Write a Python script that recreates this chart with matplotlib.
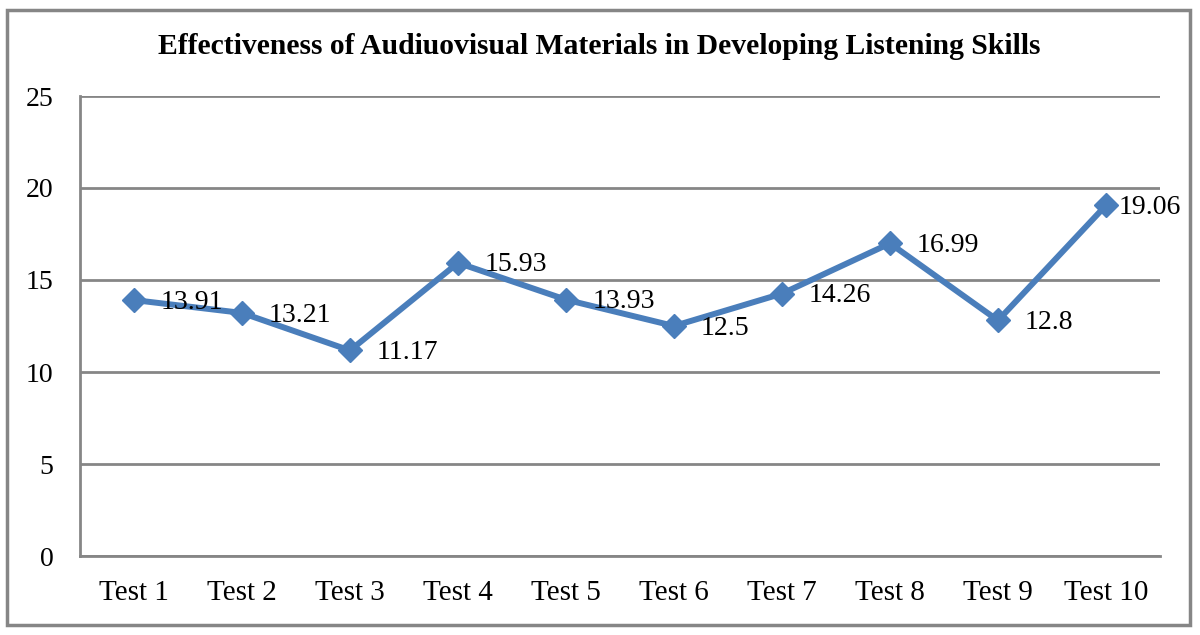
import matplotlib
matplotlib.use("Agg")
from matplotlib import pyplot as plt
from matplotlib.patches import Rectangle

TESTS = ["Test 1", "Test 2", "Test 3", "Test 4", "Test 5",
         "Test 6", "Test 7", "Test 8", "Test 9", "Test 10"]
SCORES = [13.91, 13.21, 11.17, 15.93, 13.93, 12.5, 14.26, 16.99, 12.8, 19.06]
Y_TICKS = [0, 5, 10, 15, 20, 25]

plt.rcParams["font.family"] = ["Liberation Serif", "DejaVu Serif"]

LINE_COLOR = "#4A7EBB"
GRID_COLOR = "#868686"

fig = plt.figure(figsize=(12, 6.35), dpi=100)
ax = fig.add_axes([80 / 1200, 79 / 635, 1080 / 1200, 460 / 635])

x = list(range(len(TESTS)))
ax.plot(x, SCORES, color=LINE_COLOR, linewidth=4.3, marker="D",
        markersize=12, zorder=3)

# data labels to the right of each marker; last one squeezed by the edge
for i, v in enumerate(SCORES):
    dx = 9 if i == len(SCORES) - 1 else 19
    ax.annotate(f"{v:g}", (i, v), xytext=(dx, -1.5), textcoords="offset points",
                ha="left", va="center", fontsize=20, color="black", zorder=4)

ax.set_xlim(-0.5, len(TESTS) - 0.5)
ax.set_ylim(0, 25)
ax.set_yticks(Y_TICKS)
ax.set_xticks(x)
ax.set_xticklabels(TESTS)
ax.tick_params(axis="both", length=0)
ax.tick_params(axis="y", pad=19, labelsize=20)
ax.tick_params(axis="x", pad=17, labelsize=21)
ax.yaxis.grid(True, color=GRID_COLOR, linewidth=2)
ax.set_axisbelow(True)
for side in ["top", "right"]:
    ax.spines[side].set_visible(False)
for side in ["left", "bottom"]:
    ax.spines[side].set_color(GRID_COLOR)
    ax.spines[side].set_linewidth(2)

fig.text(599 / 1200, 1 - 47 / 635,
         "Effectiveness of Audiuovisual Materials in Developing Listening Skills",
         ha="center", va="center", fontsize=21.3, fontweight="bold")

# outer chart border
fig.patches.append(Rectangle((7 / 1200, 10 / 635), 1183 / 1200, 615 / 635,
                             transform=fig.transFigure, fill=False,
                             edgecolor=GRID_COLOR, linewidth=2.5))

fig.savefig("out.png", dpi=100)
